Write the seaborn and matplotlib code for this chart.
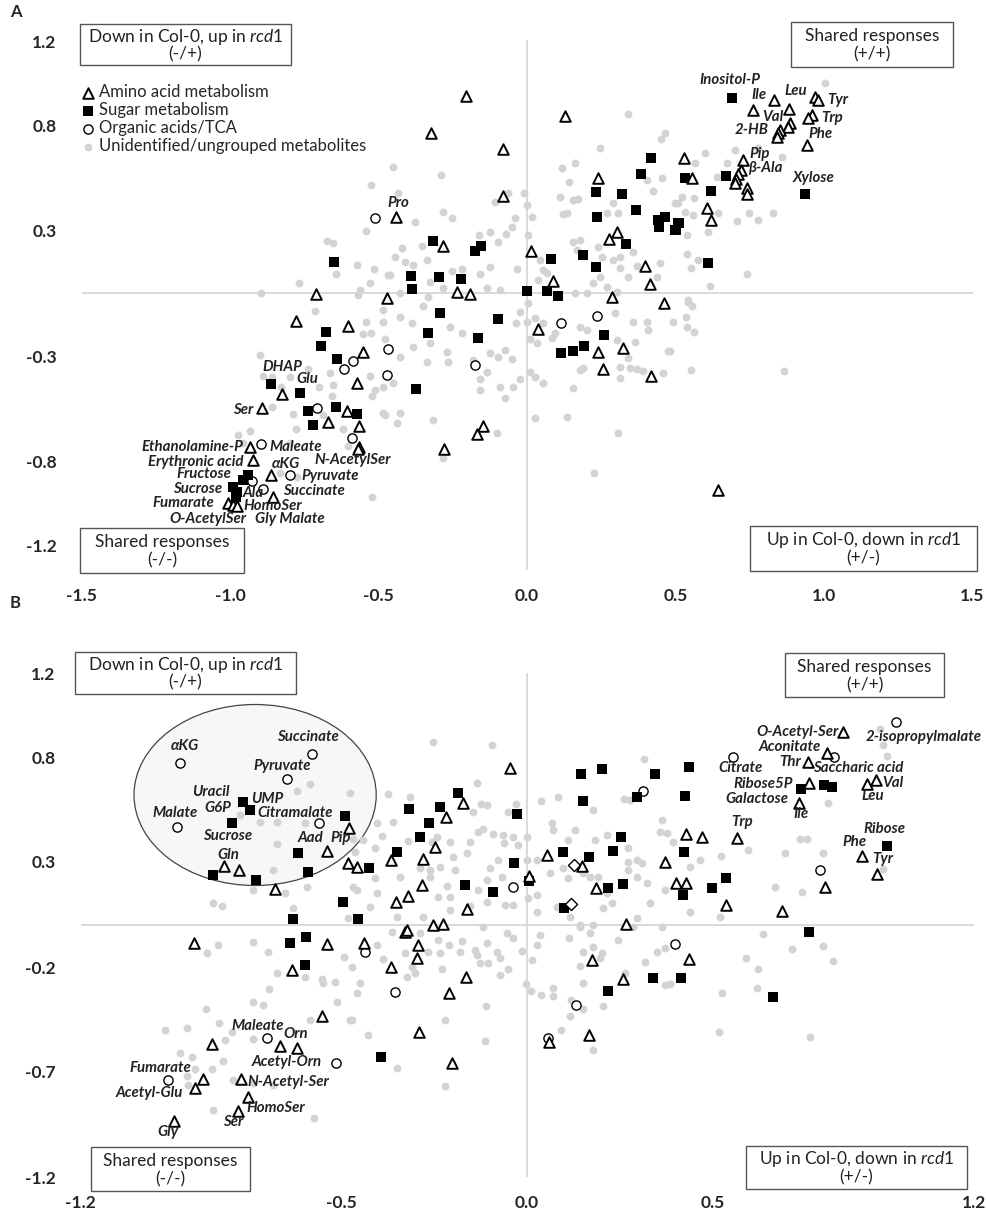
import matplotlib
matplotlib.use("Agg")
import matplotlib.pyplot as plt
from matplotlib.patches import Rectangle, Ellipse
import seaborn as sns
import pandas as pd

# -------------------------
# Panel A data (Col-0 vs rcd1, x / y fold changes)
# -------------------------
a_amino_x = [-0.205, -0.323, -0.081, -0.081, -0.441, -0.283, 0.013, 0.128, 0.239, 0.303, 0.276, 0.088,
             0.397, 0.414, -0.236, -0.192, -0.471, 0.286, 0.832, 0.761, 0.882, 0.970, 0.980, 0.960,
             0.946, 0.886, 0.879, 0.852, 0.845, 0.842, 0.943, 0.727, 0.721, 0.710, 0.704, 0.700,
             0.741, 0.741, 0.529, 0.556, 0.606, 0.620, -0.710, -0.778, -0.603, -0.552, -0.572, -0.825,
             -0.892, -0.606, -0.670, -0.566, -0.566, -0.569, -0.933, -0.923, -0.862, -0.855, -1.007,
             -0.990, -0.976, 0.037, 0.461, 0.239, 0.323, 0.256, 0.418, -0.148, -0.168, -0.279, 0.643]
a_amino_y = [0.938, 0.762, 0.686, 0.462, 0.362, 0.224, 0.200, 0.843, 0.548, 0.290, 0.257, 0.057,
             0.129, 0.043, 0.005, -0.005, -0.025, -0.020, 0.919, 0.871, 0.876, 0.933, 0.919, 0.848,
             0.833, 0.810, 0.790, 0.776, 0.762, 0.743, 0.705, 0.633, 0.586, 0.567, 0.543, 0.524,
             0.500, 0.471, 0.643, 0.548, 0.405, 0.348, -0.005, -0.133, -0.157, -0.281, -0.429, -0.481,
             -0.548, -0.562, -0.614, -0.633, -0.733, -0.743, -0.733, -0.795, -0.867, -0.971, -1.000,
             -1.010, -1.014, -0.171, -0.048, -0.281, -0.262, -0.362, -0.395, -0.633, -0.671, -0.743, -0.938]

a_sugar_x = [-0.316, -0.155, -0.175, -0.391, -0.296, -0.222, -0.387, 0.000, 0.067, 0.104, 0.081, 0.189,
             0.232, 0.333, 0.232, 0.236, 0.320, 0.367, 0.384, 0.418, 0.441, 0.465, 0.444, 0.498,
             0.508, 0.690, 0.670, 0.532, 0.620, 0.936, 0.512, 0.502, 0.609, -0.650, -0.677, -0.694,
             -0.640, -0.862, -0.764, -0.737, -0.643, -0.572, -0.721, -0.939, -0.956, -0.990, -0.976,
             -0.980, -0.293, -0.098, -0.333, -0.165, -0.374, 0.259, 0.192, 0.155, 0.114]
a_sugar_y = [0.248, 0.224, 0.200, 0.081, 0.076, 0.067, 0.019, 0.010, 0.010, -0.014, 0.162, 0.181,
             0.124, 0.233, 0.481, 0.362, 0.471, 0.395, 0.567, 0.643, 0.348, 0.362, 0.314, 0.300,
             0.333, 0.929, 0.557, 0.548, 0.486, 0.471, 0.333, 0.300, 0.143, 0.148, -0.186, -0.252,
             -0.314, -0.433, -0.476, -0.562, -0.543, -0.576, -0.629, -0.867, -0.890, -0.924, -0.948,
             -0.971, -0.095, -0.124, -0.190, -0.214, -0.457, -0.200, -0.252, -0.276, -0.286]

a_organic_x = [-0.512, -0.586, -0.616, -0.468, -0.471, -0.707, -0.896, -0.589, -0.798, -0.926, -0.889,
               -0.175, 0.114, 0.236]
a_organic_y = [0.357, -0.324, -0.362, -0.267, -0.390, -0.548, -0.719, -0.690, -0.867, -0.895, -0.933,
               -0.343, -0.143, -0.110]

a_other_x = [-0.451, -0.290, -0.434, -0.283, -0.253, -0.377, -0.108, -0.064, -0.010, 0.000, 0.017, -0.040,
             -0.050, -0.071, -0.125, -0.162, -0.098, 0.003, -0.421, -0.444, -0.411, -0.354, -0.337, -0.384,
             -0.253, -0.219, -0.125, -0.034, -0.158, -0.327, -0.283, -0.135, -0.091, -0.461, -0.428, -0.333,
             0.044, 0.054, 0.118, 0.162, 0.141, 0.111, 0.155, 0.172, 0.121, 0.135, 0.246, 0.340, 0.465,
             0.451, 0.455, 0.404, 0.424, 0.290, 0.269, 0.306, 0.155, 0.178, 0.168, 0.239, 0.252, 0.290,
             0.313, 0.357, 0.313, 0.340, 0.370, 0.438, 0.448, 0.498, 0.246, 0.222, 0.269, 0.303, 0.067,
             0.037, 0.202, 0.162,
             1.003, 0.700, 0.599, 0.778, 0.859, 0.673, 0.566, 0.640, 0.522, 0.508, 0.532, 0.559, 0.562,
             0.643, 0.747, 0.828, 0.707, 0.778, 0.609, 0.539, 0.539, 0.576, 0.552, 0.741, 0.616, 0.542,
             -0.525, -0.542, -0.673, -0.653, -0.572, -0.515, -0.643, -0.768, -0.529, -0.562, -0.896, -0.468,
             -0.569, -0.714, -0.542, -0.485, -0.485, -0.525, -0.552, -0.478, -0.899, -0.737, -0.663, -0.889,
             -0.859, -0.798, -0.828, -0.700, -0.653, -0.529, -0.512, -0.522, -0.657, -0.485, -0.859, -0.788,
             -0.687, -0.485, -0.778, -0.620, -0.973, -0.933, -0.956, -0.603, -0.774, -0.832, -0.522, -0.798,
             -0.428, -0.350, -0.387, -0.259, -0.219, -0.269, -0.327, -0.384, -0.428, -0.125, -0.098, -0.050,
             -0.074, -0.135, -0.158, -0.091, -0.047, -0.024, -0.158, -0.074, 0.010, 0.027, 0.054, 0.155,
             0.178, 0.189, 0.313, 0.313, 0.340, 0.364, 0.347, 0.370, 0.390, 0.458, 0.475, 0.492, 0.404,
             0.407, 0.357, 0.296, 0.303, 0.202, 0.178, 0.094, 0.084, 0.054, 0.000, -0.037, -0.024, 0.003,
             0.027, 0.034, 0.010, 0.135, 0.027, 0.306, -0.101, -0.316, -0.438, -0.478, -0.283, 0.226,
             -0.266, -0.182, -0.337, -0.451, -0.428,
             0.542, 0.556, 0.535, 0.539, 0.562, 0.481, 0.552, 0.865]
a_other_y = [0.600, 0.562, 0.476, 0.386, 0.357, 0.338, 0.433, 0.476, 0.476, 0.419, 0.362, 0.357,
             0.314, 0.281, 0.290, 0.276, 0.243, 0.276, 0.214, 0.171, 0.148, 0.224, 0.157, 0.133,
             0.105, 0.114, 0.124, 0.114, 0.090, 0.052, 0.024, 0.024, 0.014, 0.086, 0.000, -0.020,
             0.157, 0.110, 0.595, 0.619, 0.529, 0.457, 0.443, 0.448, 0.376, 0.381, 0.690, 0.852, 0.762,
             0.733, 0.548, 0.538, 0.486, 0.429, 0.381, 0.381, 0.243, 0.252, 0.205, 0.219, 0.171, 0.157,
             0.171, 0.195, 0.119, 0.076, 0.129, 0.076, 0.143, 0.429, 0.076, 0.048, 0.029, 0.005, 0.095,
             0.062, 0.000, 0.000,
             1.000, 0.681, 0.667, 0.690, 0.648, 0.619, 0.619, 0.552, 0.457, 0.429, 0.386, 0.371, 0.452,
             0.381, 0.381, 0.381, 0.343, 0.348, 0.290, 0.276, 0.186, 0.157, 0.119, 0.090, 0.033, -0.033,
             0.514, 0.295, 0.248, 0.238, 0.133, 0.114, 0.090, 0.048, 0.048, 0.014, 0.000, 0.086,
             -0.010, -0.086, -0.138, -0.081, -0.138, -0.190, -0.195, -0.219, -0.295, -0.362, -0.381, -0.395,
             -0.400, -0.400, -0.448, -0.448, -0.438, -0.395, -0.462, -0.490, -0.490, -0.448, -0.543, -0.576,
             -0.581, -0.571, -0.648, -0.648, -0.676, -0.657, -0.714, -0.729, -0.876, -0.857, -0.971, -0.714,
             -0.114, -0.062, -0.143, -0.162, -0.190, -0.281, -0.238, -0.257, -0.305, -0.286, -0.305, -0.314,
             -0.271, -0.376, -0.410, -0.448, -0.448, -0.410, -0.462, -0.500, -0.376, -0.400, -0.429, -0.452,
             -0.367, -0.357, -0.405, -0.352, -0.310, -0.233, -0.357, -0.362, -0.371, -0.381, -0.276, -0.138,
             -0.138, -0.176, -0.138, -0.095, -0.224, -0.176, -0.162, -0.190, -0.214, -0.143, -0.138, -0.143,
             -0.090, -0.048, -0.119, -0.238, -0.219, -0.590, -0.595, -0.667, -0.667, -0.605, -0.619, -0.581,
             -0.786, -0.857, -0.329, -0.319, -0.329, -0.429, -0.571,
             -0.043, -0.062, -0.114, -0.162, -0.186, -0.276, -0.367, -0.371]

# -------------------------
# Panel B data
# -------------------------
b_amino_x = [-0.538, -0.478, -0.815, -0.774, -0.677, -0.481, -0.457, -0.046, -0.172, -0.218, -0.247,
             -0.280, -0.366, -0.282, -0.320, -0.352, -0.161, 0.005, 0.054, 0.148, 0.185, 0.266, 0.371,
             0.849, 0.806, 0.755, 0.758, 0.731, 0.914, 0.938, 0.565, 0.427, 0.470, 0.401, 0.427, 0.901,
             0.941, 0.801, 0.535, 0.685, -0.895, -0.538, -0.632, -0.551, -0.847, -0.664, -0.618, -0.769,
             -0.871, -0.892, -0.750, -0.777, -0.949, -0.438, -0.328, -0.323, -0.253, -0.226, -0.293,
             -0.296, -0.366, -0.164, -0.210, -0.290, -0.202, 0.175, 0.258, 0.167, 0.059, 0.435]
b_amino_y = [0.352, 0.462, 0.281, 0.262, 0.171, 0.295, 0.276, 0.748, 0.581, 0.514, 0.371,
             0.314, 0.310, 0.190, 0.138, 0.110, 0.076, 0.233, 0.333, 0.281, 0.176, 0.005, 0.300,
             0.919, 0.819, 0.776, 0.676, 0.581, 0.671, 0.690, 0.414, 0.433, 0.419, 0.200, 0.200, 0.329,
             0.243, 0.181, 0.095, 0.067, -0.086, -0.090, -0.214, -0.433, -0.567, -0.576, -0.586, -0.733,
             -0.733, -0.776, -0.819, -0.886, -0.933, -0.086, -0.033, -0.024, 0.000, 0.005, -0.095,
             -0.157, -0.200, -0.248, -0.324, -0.510, -0.657, -0.167, -0.257, -0.524, -0.557, -0.162]

b_sugar_x = [-0.763, -0.745, -0.793, -0.489, -0.616, -0.844, -0.728, -0.589, -0.495, -0.629, -0.454,
             -0.185, -0.317, -0.234, -0.263, -0.288, -0.349, -0.425, -0.027, -0.035, -0.167, -0.091,
             0.005, 0.145, 0.202, 0.151, 0.296, 0.344, 0.097, 0.167, 0.231, 0.253, 0.218, 0.258, 0.099,
             0.435, 0.425, 0.737, 0.798, 0.820, 0.968, 0.422, 0.419, 0.497, 0.535, 0.758, -0.637,
             -0.594, -0.597, -0.392, 0.218, 0.339, 0.414, 0.661]
b_sugar_y = [0.586, 0.548, 0.486, 0.519, 0.343, 0.238, 0.214, 0.252, 0.110, 0.029, 0.029,
             0.629, 0.552, 0.562, 0.486, 0.419, 0.348, 0.271, 0.529, 0.295, 0.190, 0.157,
             0.210, 0.719, 0.743, 0.590, 0.610, 0.719, 0.348, 0.324, 0.352, 0.419, 0.176, 0.195, 0.081,
             0.752, 0.614, 0.648, 0.667, 0.657, 0.376, 0.348, 0.143, 0.176, 0.224, -0.033, -0.086,
             -0.057, -0.190, -0.629, -0.314, -0.252, -0.252, -0.343]

b_organic_x = [-0.933, -0.578, -0.645, -0.941, -0.559, 0.312, -0.038, 0.992, 0.554, 0.825, 0.788,
               -0.699, -0.513, -0.965, -0.435, -0.355, 0.132, 0.056, 0.398]
b_organic_y = [0.771, 0.814, 0.695, 0.467, 0.486, 0.638, 0.181, 0.967, 0.800, 0.800, 0.262,
               -0.538, -0.657, -0.738, -0.129, -0.319, -0.381, -0.538, -0.090]

b_diamond_x = [0.126, 0.118]
b_diamond_y = [0.286, 0.100]

b_other_x = [-0.583, -0.618, -0.476, -0.772, -0.718, -0.672, -0.597, -0.468, -0.672, -0.462, -0.683,
             -0.737, -0.651, -0.591, -0.844, -0.820, -0.629, -0.468, -0.481,
             -0.253, -0.094, -0.134, -0.374, -0.315, -0.124, -0.108, -0.145, -0.030, -0.051, -0.360,
             -0.403, -0.390, -0.441, -0.409, -0.207, -0.153, -0.132, -0.118, -0.091, -0.065, -0.062,
             -0.038, 0.000, -0.024, -0.255, -0.242, -0.320, -0.199, -0.161, -0.078, -0.099, -0.234,
             -0.261, -0.194, -0.288, -0.341, -0.409, -0.261, -0.215, -0.239, -0.207, -0.132, -0.108,
             -0.067, -0.059, -0.038, -0.108, -0.153, -0.207, -0.280, -0.349, -0.422, -0.457, -0.403,
             0.000, 0.003, 0.027, 0.038, 0.083, 0.067, 0.070, 0.110, 0.129, 0.177, 0.183, 0.215, 0.027,
             0.062, 0.097, 0.110, 0.151, 0.169, 0.191, 0.215, 0.272, 0.272, 0.296, 0.309, 0.272, 0.296,
             0.323, 0.277, 0.261, 0.315, 0.363, 0.358, 0.371, 0.331, 0.296, 0.142, 0.177, 0.116, 0.081,
             0.027, 0.204, 0.228,
             0.949, 0.957, 0.968, 0.809, 0.734, 0.753, 0.594, 0.694, 0.796, 0.522, 0.957, 0.376, 0.392,
             0.438, 0.465, 0.438, 0.519, 0.667, 0.739,
             -0.831, -0.860, -0.737, -0.696, -0.672, -0.597, -0.551, -0.548, -0.516, -0.492, -0.470,
             -0.694, -0.737, -0.710, -0.511, -0.583, -0.476, -0.863, -0.914, -0.973, -0.828, -0.793,
             -0.737, -0.812, -0.901, -0.933, -0.817, -0.892, -0.847, -0.790, -0.737, -0.914, -0.911,
             -0.844, -0.683, -0.573,
             -0.363, -0.288, -0.239, -0.210, -0.175, -0.108, -0.118, -0.054, -0.038, -0.403, -0.387,
             -0.328, -0.266, -0.234, -0.180, -0.140, -0.134, -0.081, -0.073, -0.013, 0.013, -0.126,
             -0.105, -0.051, -0.073, -0.228, -0.309, -0.301, -0.323, -0.449, -0.457, -0.470, -0.427,
             -0.220, -0.110, -0.113, -0.349, -0.220, -0.003, 0.011, 0.038, 0.070, 0.070, 0.091, 0.116,
             0.118, 0.151, 0.204, 0.151, 0.142, 0.177, 0.035, 0.113, 0.142, 0.169, 0.177, 0.151, 0.202,
             0.196, 0.245, 0.263, 0.317, 0.349, 0.371, 0.371, 0.285, 0.363, 0.027,
             0.384, 0.524, 0.516, 0.589, 0.621, 0.618, 0.634, 0.712, 0.796, 0.823, 0.761]
b_other_y = [0.671, 0.638, 0.629, 0.524, 0.490, 0.490, 0.486, 0.410, 0.386, 0.348, 0.262,
             0.167, 0.152, 0.181, 0.105, 0.090, 0.081, 0.181, 0.033,
             0.871, 0.857, 0.676, 0.624, 0.610, 0.576, 0.571, 0.538, 0.576, 0.538, 0.490,
             0.486, 0.424, 0.405, 0.367, 0.395, 0.395, 0.443, 0.457, 0.433, 0.429, 0.390,
             0.419, 0.419, 0.381, 0.395, 0.419, 0.400, 0.324, 0.343, 0.310, 0.271, 0.276,
             0.262, 0.262, 0.271, 0.229, 0.224, 0.229, 0.186, 0.133, 0.133, 0.167, 0.214,
             0.229, 0.095, 0.095, 0.110, 0.090, 0.071, 0.038, 0.038, 0.086, 0.167, 0.152,
             0.310, 0.129, 0.143, 0.590, 0.610, 0.486, 0.452, 0.405, 0.452, 0.548, 0.405, 0.429, 0.310,
             0.248, 0.271, 0.224, 0.248, 0.229, 0.229, 0.152, 0.367, 0.300, 0.310, 0.295, 0.262, 0.229,
             0.200, 0.595, 0.600, 0.790, 0.500, 0.443, 0.167, 0.105, 0.033, 0.000, 0.000, 0.038, 0.086,
             0.062, 0.081, 0.105,
             0.933, 0.857, 0.805, 0.581, 0.410, 0.410, 0.357, 0.343, 0.343, 0.329, 0.267, 0.438, 0.395,
             0.276, 0.310, 0.062, 0.038, 0.181, 0.157,
             -0.095, -0.133, -0.081, -0.129, -0.229, -0.248, -0.257, -0.276, -0.271, -0.152, -0.200,
             -0.305, -0.367, -0.381, -0.367, -0.452, -0.452, -0.400, -0.490, -0.500, -0.467, -0.510,
             -0.543, -0.548, -0.629, -0.610, -0.648, -0.686, -0.686, -0.738, -0.752, -0.719, -0.762,
             -0.881, -0.762, -0.919,
             -0.033, -0.038, -0.071, -0.095, -0.076, -0.086, -0.010, -0.038, -0.062, -0.095, -0.162,
             -0.133, -0.129, -0.133, -0.129, -0.119, -0.143, -0.129, -0.157, -0.124, -0.167, -0.181,
             -0.181, -0.210, -0.238, -0.210, -0.200, -0.229, -0.248, -0.276, -0.324, -0.452, -0.524,
             -0.452, -0.386, -0.552, -0.681, -0.767, -0.281, -0.314, -0.333, -0.300, -0.338, -0.500, -0.433,
             -0.357, -0.400, -0.386, -0.276, -0.195, -0.595, -0.048, -0.062, -0.010, -0.038, -0.105, -0.129,
             -0.133, -0.157, -0.071, -0.229, -0.176, -0.129, -0.110, -0.286, -0.010, -0.010, -0.095,
             -0.281, -0.324, -0.510, -0.157, -0.210, -0.300, -0.043, -0.114, -0.100, -0.171, -0.533]

# metabolite name labels: (text, x, y)
a_labels = [("Inositol-P", 0.684, 1.014), ("Ile", 0.781, 0.943), ("Leu", 0.906, 0.962),
            ("Tyr", 1.047, 0.919), ("Val", 0.828, 0.838), ("Trp", 1.027, 0.833),
            ("2-HB", 0.758, 0.776), ("Phe", 0.987, 0.757), ("Pip", 0.785, 0.662),
            ("β-Ala", 0.801, 0.595), ("Xylose", 0.966, 0.548), ("Pro", -0.434, 0.429),
            ("DHAP", -0.825, -0.352), ("Glu", -0.741, -0.410), ("Ser", -0.956, -0.557),
            ("Ethanolamine-P", -1.128, -0.733), ("Maleate", -0.778, -0.733),
            ("Erythronic acid", -1.114, -0.805), ("N-AcetylSer", -0.586, -0.795),
            ("αKG", -0.811, -0.814), ("Fructose", -1.088, -0.862), ("Pyruvate", -0.663, -0.871),
            ("Sucrose", -1.108, -0.933), ("Ala", -0.923, -0.952), ("Succinate", -0.717, -0.943),
            ("Fumarate", -1.158, -1.000), ("HomoSer", -0.855, -1.014),
            ("O-AcetylSer", -1.074, -1.076), ("Gly Malate", -0.798, -1.076)]
b_labels = [("αKG", -0.919, 0.852), ("Succinate", -0.589, 0.895), ("Pyruvate", -0.659, 0.757),
            ("Uracil", -0.849, 0.633), ("UMP", -0.699, 0.600), ("G6P", -0.831, 0.557),
            ("Citramalate", -0.624, 0.533), ("Malate", -0.946, 0.533), ("Sucrose", -0.806, 0.424),
            ("Aad", -0.583, 0.414), ("Pip", -0.500, 0.414), ("Gln", -0.804, 0.333),
            ("O-Acetyl-Ser", 0.726, 0.919), ("2-isopropylmalate", 1.065, 0.895),
            ("Aconitate", 0.707, 0.848), ("Citrate", 0.573, 0.748), ("Thr", 0.707, 0.776),
            ("Saccharic acid", 0.890, 0.748), ("Ribose5P", 0.634, 0.671), ("Val", 0.984, 0.676),
            ("Galactose", 0.618, 0.600), ("Leu", 0.930, 0.614), ("Ile", 0.737, 0.529),
            ("Trp", 0.578, 0.490), ("Ribose", 0.960, 0.457), ("Phe", 0.879, 0.395),
            ("Tyr", 0.957, 0.314), ("Maleate", -0.723, -0.481), ("Orn", -0.621, -0.519),
            ("Acetyl-Orn", -0.645, -0.652), ("Fumarate", -0.987, -0.681),
            ("N-Acetyl-Ser", -0.642, -0.748), ("Acetyl-Glu", -1.016, -0.800),
            ("HomoSer", -0.675, -0.871), ("Ser", -0.790, -0.938), ("Gly", -0.965, -0.986)]

# -------------------------
# Style
# -------------------------
sns.set_style("white")
plt.rcParams['font.family'] = ['Lato', 'DejaVu Sans']
plt.rcParams['mathtext.fontset'] = 'custom'
plt.rcParams['mathtext.rm'] = 'Lato'
plt.rcParams['mathtext.it'] = 'Lato:italic'

W, H = 986, 1211
fig = plt.figure(figsize=(W / 100, H / 100), dpi=100)

GRAY = '#d3d3d3'
LINE = '#d9d9d9'


def px_box(x0, y0, x1, y1, line1, line2):
    fig.add_artist(Rectangle((x0 / W, 1 - y1 / H), (x1 - x0) / W, (y1 - y0) / H,
                             transform=fig.transFigure, facecolor='white',
                             edgecolor='#555555', lw=1.0, zorder=5))
    cx = (x0 + x1) / 2 / W
    fig.text(cx, 1 - (y0 + (y1 - y0) * 0.31) / H, line1, ha='center', va='center',
             fontsize=12.5, color='#222222', zorder=6)
    fig.text(cx, 1 - (y0 + (y1 - y0) * 0.73) / H, line2, ha='center', va='center',
             fontsize=12.5, color='#222222', zorder=6)


def draw_panel(ax, other, amino, sugar, organic, labels):
    sns.scatterplot(x=other[0], y=other[1], ax=ax, color=GRAY, s=32, linewidth=0,
                    marker='o', label='Unidentified/ungrouped metabolites', zorder=2)
    sns.scatterplot(x=organic[0], y=organic[1], ax=ax, color='white', edgecolor='black',
                    s=44, linewidth=1.0, marker='o', label='Organic acids/TCA', zorder=3)
    sns.scatterplot(x=sugar[0], y=sugar[1], ax=ax, color='black', s=50, linewidth=0,
                    marker='s', label='Sugar metabolism', zorder=3)
    sns.scatterplot(x=amino[0], y=amino[1], ax=ax, color='white', edgecolor='black',
                    s=58, linewidth=1.4, marker='^', label='Amino acid metabolism', zorder=4)
    for txt, lx, ly in labels:
        ax.text(lx, ly, txt, fontsize=10.8, fontweight='bold', fontstyle='italic',
                ha='center', va='center', color='#222222', zorder=6, clip_on=False)
    ax.axvline(0, color=LINE, lw=1.4, zorder=1)
    ax.axhline(0, color=LINE, lw=1.4, zorder=1)
    for sp in ax.spines.values():
        sp.set_visible(False)
    ax.tick_params(axis='both', length=0, labelsize=12.5)


# -------------------------
# Panel A
# -------------------------
axA = fig.add_axes([81.5 / W, 1 - 570 / H, 891 / W, 530 / H])
draw_panel(axA, (a_other_x, a_other_y), (a_amino_x, a_amino_y), (a_sugar_x, a_sugar_y),
           (a_organic_x, a_organic_y), a_labels)
axA.set_xlim(-1.5, 1.5)
axA.set_ylim(-1.319, 1.205)
axA.set_xticks([-1.5, -1.0, -0.5, 0.0, 0.5, 1.0, 1.5])
axA.set_xticklabels(['-1.5', '-1.0', '-0.5', '0.0', '0.5', '1.0', '1.5'], fontweight='bold')
axA.set_yticks([-1.2, -0.8, -0.3, 0.3, 0.8, 1.2])
axA.set_yticklabels(['-1.2', '-0.8', '-0.3', '0.3', '0.8', '1.2'], fontweight='bold')
axA.tick_params(axis='x', pad=13)
axA.tick_params(axis='y', pad=18)
handles, labs = axA.get_legend_handles_labels()
order = [3, 2, 1, 0]
axA.legend([handles[i] for i in order], [labs[i] for i in order], loc='upper left',
           bbox_to_anchor=(80 / W, 1 - 84 / H), bbox_transform=fig.transFigure,
           frameon=False, fontsize=12, handletextpad=0.15, labelspacing=0.12,
           borderaxespad=0, handlelength=1.0, borderpad=0)

# -------------------------
# Panel B
# -------------------------
axB = fig.add_axes([80.6 / W, 1 - 1177 / H, 893 / W, 504 / H])
ell = Ellipse((-0.731, 0.619), 0.651, 0.862, facecolor='#f7f7f7', edgecolor='#444444',
              lw=0.9, zorder=0.5)
axB.add_patch(ell)
draw_panel(axB, (b_other_x, b_other_y), (b_amino_x, b_amino_y), (b_sugar_x, b_sugar_y),
           (b_organic_x, b_organic_y), b_labels)
sns.scatterplot(x=b_diamond_x, y=b_diamond_y, ax=axB, color='white', edgecolor='black',
                s=38, linewidth=1.0, marker='D', zorder=3)
axB.get_legend().remove()
axB.set_xlim(-1.2, 1.2)
axB.set_ylim(-1.2, 1.2)
axB.set_xticks([-1.2, -0.5, 0.0, 0.5, 1.2])
axB.set_xticklabels(['-1.2', '-0.5', '0.0', '0.5', '1.2'], fontweight='bold')
axB.set_yticks([-1.2, -0.7, -0.2, 0.3, 0.8, 1.2])
axB.set_yticklabels(['-1.2', '-0.7', '-0.2', '0.3', '0.8', '1.2'], fontweight='bold')
axB.tick_params(axis='x', pad=13)
axB.tick_params(axis='y', pad=18)

# -------------------------
# Quadrant boxes and panel letters
# -------------------------
px_box(80, 24, 291, 65, r'Down in Col-0, up in $\it{rcd1}$', '(-/+)')
px_box(791, 22, 953, 67, 'Shared responses', '(+/+)')
px_box(80, 528, 244, 573, 'Shared responses', '(-/-)')
px_box(750, 526, 977, 571, r'Up in Col-0, down in $\it{rcd1}$', '(+/-)')
px_box(75, 652, 296, 694, r'Down in Col-0, up in $\it{rcd1}$', '(-/+)')
px_box(785, 653, 944, 697, 'Shared responses', '(+/+)')
px_box(91, 1147, 250, 1191, 'Shared responses', '(-/-)')
px_box(746, 1146, 967, 1189, r'Up in Col-0, down in $\it{rcd1}$', '(+/-)')

fig.text(10 / W, 1 - 12 / H, 'A', fontsize=12, fontweight='bold', va='center')
fig.text(10 / W, 1 - 603 / H, 'B', fontsize=12, fontweight='bold', va='center')

fig.savefig('out.png', dpi=100)
